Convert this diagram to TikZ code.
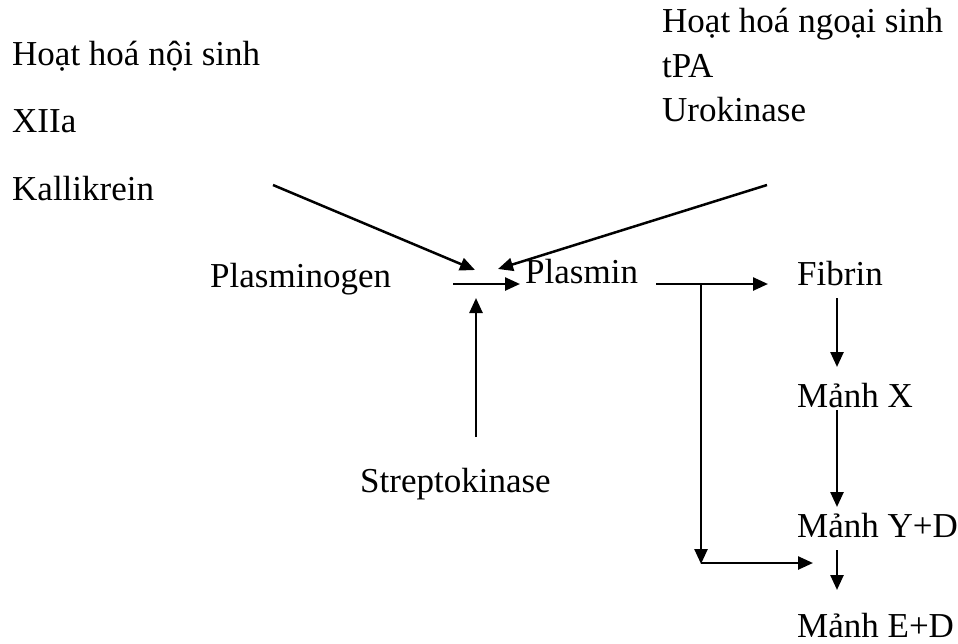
\documentclass[tikz,border=0pt]{standalone}
\usepackage{fontspec}
\setmainfont{Liberation Serif}
\usetikzlibrary{arrows.meta}
\begin{document}
\begin{tikzpicture}[x=1pt,y=-1pt,
  lbl/.style={anchor=base west,inner sep=0pt,font=\fontsize{35}{42}\selectfont},
  arr/.style={line width=2.5pt,-{Triangle[length=15pt,width=13pt]}}]
\useasboundingbox (0,0) rectangle (958,643);

% activators
\node[lbl] (noi)   at (12,65)  {Hoạt hoá nội sinh};
\node[lbl] (xiia)  at (12,132) {XIIa};
\node[lbl] (kal)   at (12,200) {Kallikrein};
\node[lbl] (ngoai) at (662,32) {Hoạt hoá ngoại sinh};
\node[lbl] (tpa)   at (662,77) {tPA};
\node[lbl] (uro)   at (662,121) {Urokinase};

% main chain
\node[lbl] (pgn)   at (210,287) {Plasminogen};
\node[lbl] (pln)   at (525,283) {Plasmin};
\node[lbl] (strep) at (360,492) {Streptokinase};
\node[lbl] (fib)   at (797,285) {Fibrin};
\node[lbl] (mx)    at (797,407) {Mảnh X};
\node[lbl] (myd)   at (797,537) {Mảnh Y+D};
\node[lbl] (med)   at (797,637) {Mảnh E+D};

% connector end points
\coordinate (kalS)  at (273,185);
\coordinate (uroS)  at (767,185);
\coordinate (convS) at (453,284);
\coordinate (convE) at (520,284);
\coordinate (convK) at (475,270);
\coordinate (convU) at (498,269);
\coordinate (strS)  at (476,437);
\coordinate (strE)  at (476,298);
\coordinate (plS)   at (656,284);
\coordinate (br)    at (701,284);
\coordinate (fibE)  at (768,284);
\coordinate (brD)   at (701,564);
\coordinate (brE)   at (813,563);

% activation arrows
\draw[arr] (kalS) -- (convK);
\draw[arr] (uroS) -- (convU);
\draw[arr] (convS) -- (convE);
\draw[arr] (strS) -- (strE);

% plasmin acting on fibrin and fragments
\draw[arr] (plS) -- (fibE);
\draw[arr] (br) -- (brD);
\draw[arr] (701,563) -- (brE);

% degradation chain
\draw[arr] (837,298) -- (837,367);
\draw[arr] (837,410) -- (837,507);
\draw[arr] (837,550) -- (837,590);
\end{tikzpicture}
\end{document}
